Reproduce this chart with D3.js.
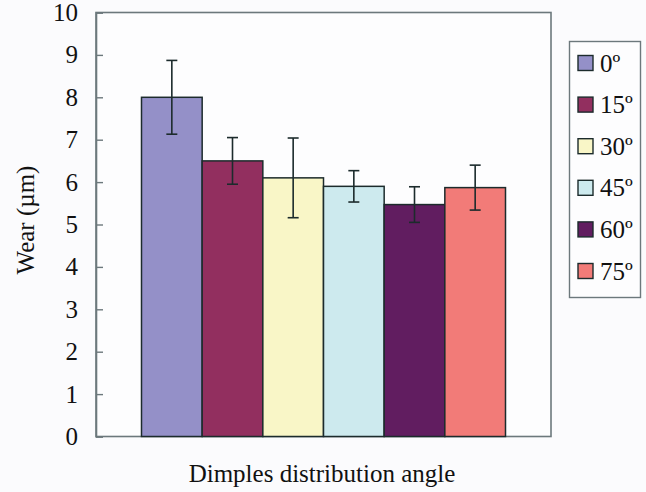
<!DOCTYPE html>
<html>
<head>
<meta charset="utf-8">
<script src="https://cdn.jsdelivr.net/npm/d3@7"></script>
<style>
  html, body { margin: 0; padding: 0; background: #fbfbfd; }
  svg { display: block; }
</style>
</head>
<body>
<svg id="chart" width="646" height="492"></svg>
<script>
const angles = ["0º", "15º", "30º", "45º", "60º", "75º"];
const wear = [8.0, 6.5, 6.1, 5.9, 5.47, 5.87];
const errors = [0.87, 0.55, 0.94, 0.37, 0.42, 0.53];
const colors = ["#9490c8", "#922f5f", "#f9f6c7", "#cdeaee", "#611d60", "#f27b78"];
const yTicks = [0, 1, 2, 3, 4, 5, 6, 7, 8, 9, 10];
const yTitle = "Wear (µm)";
const xTitle = "Dimples distribution angle";

const svg = d3.select("#chart");
const W = 646, H = 492;
const plot = { left: 96, right: 551, top: 12.5, bottom: 436.5 };
const FONT = '"Liberation Serif"';
const axisColor = "#6c787c";
const ink = "#1c2b2c";

svg.append("rect").attr("width", W).attr("height", H).attr("fill", "#fbfbfd");

const y = d3.scaleLinear().domain([0, 10]).range([plot.bottom, plot.top]);
const x = d3.scaleBand().domain(angles).range([plot.left, plot.right]).paddingInner(0).paddingOuter(0.75);
const color = d3.scaleOrdinal().domain(angles).range(colors);

// plot area
svg.append("rect")
  .attr("x", plot.left).attr("y", plot.top)
  .attr("width", plot.right - plot.left).attr("height", plot.bottom - plot.top)
  .attr("fill", "#fdfdfe").attr("stroke", axisColor).attr("stroke-width", 1.6);

// bars
svg.append("g").selectAll("rect").data(angles).join("rect")
  .attr("x", d => x(d))
  .attr("y", (d, i) => y(wear[i]))
  .attr("width", x.bandwidth())
  .attr("height", (d, i) => y(0) - y(wear[i]))
  .attr("fill", d => color(d))
  .attr("stroke", ink).attr("stroke-width", 1.5);

// error bars
const eb = svg.append("g").attr("stroke", ink).attr("stroke-width", 1.6);
angles.forEach((a, i) => {
  const cx = x(a) + x.bandwidth() / 2;
  const top = y(wear[i] + errors[i]), bot = y(wear[i] - errors[i]);
  eb.append("line").attr("x1", cx).attr("x2", cx).attr("y1", top).attr("y2", bot);
  eb.append("line").attr("x1", cx - 5.5).attr("x2", cx + 5.5).attr("y1", top).attr("y2", top);
  eb.append("line").attr("x1", cx - 5.5).attr("x2", cx + 5.5).attr("y1", bot).attr("y2", bot);
});

// y axis
const yAxis = d3.axisLeft(y).tickValues(yTicks).tickSize(-7).tickPadding(18).tickFormat(d3.format("d"));
const gy = svg.append("g").attr("transform", `translate(${plot.left},0)`).call(yAxis);
gy.select(".domain").attr("stroke", axisColor).attr("stroke-width", 1.6);
gy.selectAll(".tick line").attr("stroke", axisColor).attr("stroke-width", 1.4);
gy.selectAll(".tick text")
  .style("font-family", FONT).style("font-size", "25px").attr("fill", "#111");

// axis titles
svg.append("text")
  .attr("transform", `translate(34,220) rotate(-90)`)
  .attr("text-anchor", "middle")
  .style("font-family", FONT).style("font-size", "25px").attr("fill", "#111")
  .text(yTitle);

svg.append("text")
  .attr("x", 322).attr("y", 482)
  .attr("text-anchor", "middle")
  .style("font-family", FONT).style("font-size", "25px").attr("fill", "#111")
  .text(xTitle);

// legend
const lg = svg.append("g");
lg.append("rect").attr("x", 569.5).attr("y", 41.5).attr("width", 71).attr("height", 256)
  .attr("fill", "#fdfdfe").attr("stroke", axisColor).attr("stroke-width", 1.4);
const items = lg.selectAll("g.item").data(angles).join("g")
  .attr("class", "item")
  .attr("transform", (d, i) => `translate(0,${63 + i * 41.6})`);
items.append("rect").attr("x", 578).attr("y", -7.5).attr("width", 15).attr("height", 15)
  .attr("fill", d => color(d)).attr("stroke", ink).attr("stroke-width", 1.4);
items.append("text").attr("x", 600).attr("y", 8.5)
  .style("font-family", FONT).style("font-size", "25px").attr("fill", "#111")
  .text(d => d);
</script>
</body>
</html>
